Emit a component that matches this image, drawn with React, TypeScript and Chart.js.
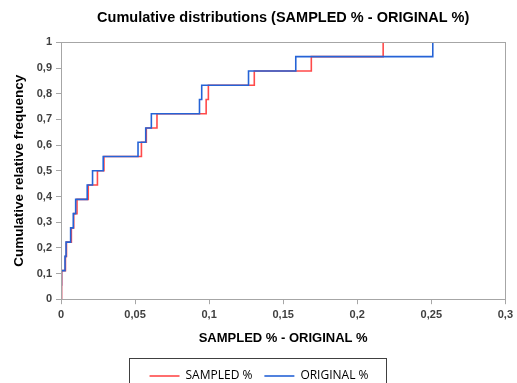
import React, { useEffect, useRef } from "react";
import { Chart, registerables } from "chart.js";

Chart.register(...registerables);

const cumulativeLevels = [
  0, 1 / 18, 2 / 18, 3 / 18, 4 / 18, 5 / 18, 6 / 18, 7 / 18, 8 / 18, 9 / 18,
  10 / 18, 11 / 18, 12 / 18, 13 / 18, 14 / 18, 15 / 18, 16 / 18, 17 / 18, 1,
];
const sampledDiffs = [
  0, 0.0004, 0.0005, 0.003, 0.0037, 0.007, 0.0086, 0.0108, 0.0184, 0.0246,
  0.029, 0.0543, 0.0576, 0.0648, 0.098, 0.0995, 0.1305, 0.169, 0.2175,
];
const originalDiffs = [
  0, 0.0002, 0.0003, 0.0027, 0.0034, 0.0065, 0.0083, 0.0099, 0.0177, 0.0213,
  0.0285, 0.052, 0.0572, 0.061, 0.0935, 0.095, 0.1266, 0.1585, 0.251,
];
const xTicks = [0, 0.05, 0.1, 0.15, 0.2, 0.25, 0.3];
const yTicks = [0, 0.1, 0.2, 0.3, 0.4, 0.5, 0.6, 0.7, 0.8, 0.9, 1];
const seriesNames = ["SAMPLED %", "ORIGINAL %"];

const fmt = (v: number) => String(Number(v.toFixed(2))).replace(".", ",");

const frame = {
  id: "frame",
  afterDatasetsDraw(chart: any) {
    const { ctx, chartArea: a } = chart;
    ctx.save();
    ctx.strokeStyle = "#a6a6a6";
    ctx.lineWidth = 1;
    ctx.strokeRect(Math.round(a.left) + 0.5, Math.round(a.top) + 0.5, Math.round(a.right - a.left), Math.round(a.bottom - a.top));
    ctx.restore();
  },
  afterDraw(chart: any) {
    const lg = chart.legend;
    if (!lg || !lg.legendHitBoxes || !lg.legendHitBoxes.length) return;
    const boxes = lg.legendHitBoxes;
    const ctx = chart.ctx;
    const l = Math.min(...boxes.map((b: any) => b.left)) - 21;
    const r = Math.max(...boxes.map((b: any) => b.left + b.width)) + 17;
    const t = Math.min(...boxes.map((b: any) => b.top)) - 12;
    const btm = Math.max(...boxes.map((b: any) => b.top + b.height)) + 8;
    ctx.save();
    ctx.strokeStyle = "#404040";
    ctx.lineWidth = 1;
    ctx.strokeRect(Math.round(l) + 0.5, Math.round(t) + 0.5, Math.round(r - l), Math.round(btm - t));
    ctx.restore();
  },
};

export default function App() {
  const ref = useRef<HTMLCanvasElement>(null);
  useEffect(() => {
    if (!ref.current) return;
    const mk = (xs: number[]) => xs.map((x, i) => ({ x, y: cumulativeLevels[i] }));
    const chart = new Chart(ref.current, {
      type: "line",
      data: {
        datasets: [
          {
            label: seriesNames[0],
            data: mk(sampledDiffs),
            borderColor: "#ff4a4a",
            backgroundColor: "#ff4a4a",
            borderWidth: 1.6,
            stepped: "before",
            pointRadius: 0,
            fill: false,
            order: 2,
          },
          {
            label: seriesNames[1],
            data: mk(originalDiffs),
            borderColor: "#2563d6",
            backgroundColor: "#2563d6",
            borderWidth: 1.6,
            stepped: "before",
            pointRadius: 0,
            fill: false,
            order: 1,
          },
        ],
      },
      plugins: [frame],
      options: {
        animation: false,
        responsive: false,
        maintainAspectRatio: false,
        layout: { padding: { left: 11, right: 10, top: 0, bottom: 0 } },
        plugins: {
          title: {
            display: true,
            fullSize: false,
            text: "Cumulative distributions (SAMPLED % - ORIGINAL %)",
            color: "#000",
            font: { family: "Liberation Sans", size: 14.5, weight: "bold" },
            padding: { top: 9, bottom: 16 },
          },
          legend: {
            display: true,
            position: "bottom",
            labels: {
              usePointStyle: true,
              pointStyle: "line",
              pointStyleWidth: 30,
              boxHeight: 2,
              color: "#000",
              font: { family: "Open Sans", size: 12 },
              padding: 12,
              sort: (a: any, b: any) => a.datasetIndex - b.datasetIndex,
            },
          },
          tooltip: { enabled: false },
        },
        scales: {
          x: {
            type: "linear",
            min: 0,
            max: 0.3,
            afterBuildTicks: (s: any) => { s.ticks = xTicks.map((v) => ({ value: v })); },
            ticks: {
              callback: (v: any) => fmt(Number(v)),
              color: "#404040",
              font: { family: "Liberation Sans", size: 11, weight: "bold" },
              padding: 4,
              maxRotation: 0,
            },
            grid: { drawOnChartArea: false, drawTicks: true, tickLength: 5, color: "#a6a6a6" },
            border: { display: true, color: "#a6a6a6" },
            title: {
              display: true,
              text: "SAMPLED % - ORIGINAL %",
              color: "#000",
              font: { family: "Liberation Sans", size: 13, weight: "bold" },
              padding: { top: 5, bottom: 12 },
            },
          },
          y: {
            type: "linear",
            min: 0,
            max: 1,
            afterBuildTicks: (s: any) => { s.ticks = yTicks.map((v) => ({ value: v })); },
            afterFit: (s: any) => { s.width = 50; },
            ticks: {
              callback: (v: any) => fmt(Number(v)),
              color: "#404040",
              font: { family: "Liberation Sans", size: 11, weight: "bold" },
              padding: 4,
            },
            grid: { drawOnChartArea: false, drawTicks: true, tickLength: 5, color: "#a6a6a6" },
            border: { display: true, color: "#a6a6a6" },
            title: {
              display: true,
              text: "Cumulative relative frequency",
              color: "#000",
              font: { family: "Liberation Sans", size: 13.5, weight: "bold" },
              padding: { top: 0, bottom: 6 },
            },
          },
        },
      },
    });
    return () => chart.destroy();
  }, []);
  return (
    <div style={{ position: "absolute", left: 0, top: 0, width: 517, height: 392, background: "#fff" }}>
      <canvas ref={ref} width={517} height={392} style={{ width: 517, height: 392 }} />
    </div>
  );
}
